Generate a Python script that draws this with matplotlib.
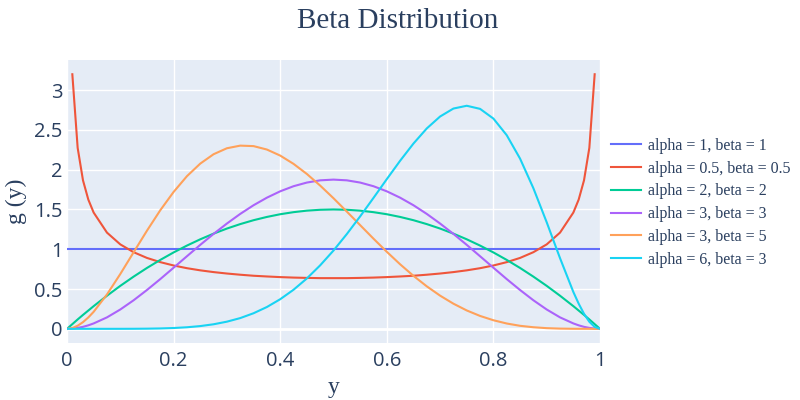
"""Beta distribution densities, plotly-style look."""

import matplotlib
matplotlib.use("Agg")
import matplotlib.pyplot as plt

nan = float("nan")

# sample points on y
y_grid = [0, 0.01, 0.02, 0.03, 0.04, 0.05, 0.075, 0.1, 0.125, 0.15, 0.175, 0.2,
          0.225, 0.25, 0.275, 0.3, 0.325, 0.35, 0.375, 0.4, 0.425, 0.45, 0.475,
          0.5, 0.525, 0.55, 0.575, 0.6, 0.625, 0.65, 0.675, 0.7, 0.725, 0.75,
          0.775, 0.8, 0.825, 0.85, 0.875, 0.9, 0.925, 0.95, 0.96, 0.97, 0.98,
          0.99, 1]

g_a1_b1 = [1] * len(y_grid)
g_a05_b05 = [nan, 3.199, 2.274, 1.866, 1.624, 1.461, 1.209, 1.061, 0.963, 0.891,
             0.838, 0.796, 0.762, 0.735, 0.713, 0.695, 0.680, 0.667, 0.658,
             0.650, 0.644, 0.640, 0.637, 0.637, 0.637, 0.640, 0.644, 0.650,
             0.658, 0.667, 0.680, 0.695, 0.713, 0.735, 0.762, 0.796, 0.838,
             0.891, 0.963, 1.061, 1.209, 1.461, 1.624, 1.866, 2.274, 3.199, nan]
g_a2_b2 = [0, 0.059, 0.118, 0.175, 0.230, 0.285, 0.416, 0.54, 0.656, 0.765,
           0.866, 0.96, 1.046, 1.125, 1.196, 1.26, 1.316, 1.365, 1.406, 1.44,
           1.466, 1.485, 1.496, 1.5, 1.496, 1.485, 1.466, 1.44, 1.406, 1.365,
           1.316, 1.26, 1.196, 1.125, 1.046, 0.96, 0.866, 0.765, 0.656, 0.54,
           0.416, 0.285, 0.230, 0.175, 0.118, 0.059, 0]
g_a3_b3 = [0, 0.003, 0.012, 0.025, 0.044, 0.068, 0.144, 0.243, 0.359, 0.488,
           0.625, 0.768, 0.912, 1.055, 1.193, 1.323, 1.444, 1.553, 1.648, 1.728,
           1.792, 1.838, 1.866, 1.875, 1.866, 1.838, 1.792, 1.728, 1.648, 1.553,
           1.444, 1.323, 1.193, 1.055, 0.912, 0.768, 0.625, 0.488, 0.359, 0.243,
           0.144, 0.068, 0.044, 0.025, 0.012, 0.003, 0]
g_a3_b5 = [0, 0.010, 0.039, 0.084, 0.143, 0.214, 0.432, 0.689, 0.962, 1.233,
           1.490, 1.720, 1.918, 2.076, 2.194, 2.269, 2.302, 2.296, 2.253, 2.177,
           2.073, 1.946, 1.800, 1.641, 1.473, 1.303, 1.133, 0.968, 0.811, 0.666,
           0.534, 0.417, 0.316, 0.231, 0.162, 0.108, 0.067, 0.038, 0.020,
           0.0085, 0.0028, 0.0006, 0.0003, 0.0001, 0, 0, 0]
g_a6_b3 = [0, 0, 0, 0, 0, 0, 0, 0.0002, 0.0007, 0.0021, 0.0049, 0.0103, 0.0196,
           0.0346, 0.0573, 0.090, 0.135, 0.196, 0.274, 0.372, 0.491, 0.633,
           0.798, 0.984, 1.191, 1.413, 1.645, 1.881, 2.112, 2.328, 2.518, 2.668,
           2.768, 2.803, 2.764, 2.642, 2.433, 2.139, 1.767, 1.339, 0.888, 0.463,
           0.316, 0.189, 0.089, 0.024, 0]

series_labels = ["alpha = 1, beta = 1", "alpha = 0.5, beta = 0.5",
                 "alpha = 2, beta = 2", "alpha = 3, beta = 3",
                 "alpha = 3, beta = 5", "alpha = 6, beta = 3"]
series_values = [g_a1_b1, g_a05_b05, g_a2_b2, g_a3_b3, g_a3_b5, g_a6_b3]
series_colors = ["#636efa", "#EF553B", "#00cc96", "#ab63fa", "#FFA15A", "#19d3f3"]

x_ticks = [0, 0.2, 0.4, 0.6, 0.8, 1]
x_tick_labels = ["0", "0.2", "0.4", "0.6", "0.8", "1"]
y_ticks = [0, 0.5, 1, 1.5, 2, 2.5, 3]
y_tick_labels = ["0", "0.5", "1", "1.5", "2", "2.5", "3"]

text_color = "#2a3f5f"
serif = ["Liberation Serif", "DejaVu Serif"]

figure = plt.figure(figsize=(8, 4), dpi=100)
axis = figure.add_axes([67 / 800, 57 / 400, 533 / 800, 283 / 400])
axis.set_facecolor("#E5ECF6")

for values, label, color in zip(series_values, series_labels, series_colors):
    axis.plot(y_grid, values, color=color, lw=1.5, label=label, zorder=3)

axis.set_xlim(0, 1)
axis.set_ylim(-0.178, 3.378)
axis.set_xticks(x_ticks)
axis.set_xticklabels(x_tick_labels)
axis.set_yticks(y_ticks)
axis.set_yticklabels(y_tick_labels)
axis.grid(True, color="white", lw=1, zorder=1)
axis.axhline(0, color="white", lw=2, zorder=2)
for spine in axis.spines.values():
    spine.set_visible(False)
axis.tick_params(length=0, labelsize=14.5, labelcolor=text_color)
axis.tick_params(axis="x", pad=6)
axis.tick_params(axis="y", pad=3)
for tick_label in axis.get_xticklabels() + axis.get_yticklabels():
    tick_label.set_family("Open Sans")

axis.set_xlabel("y", family=serif, fontsize=17, color=text_color, labelpad=4)
axis.set_ylabel("g (y)", family=serif, fontsize=17, color=text_color, labelpad=5)

figure.text(0.4975, 0.948, "Beta Distribution", family=serif, fontsize=21,
            color=text_color, ha="center", va="center")

legend = axis.legend(loc="upper left", bbox_to_anchor=(611 / 800, 1 - 138 / 400),
                     bbox_transform=figure.transFigure, frameon=False,
                     prop={"family": serif, "size": 11.5}, handlelength=1.9,
                     handletextpad=0.4, labelspacing=0.42, borderpad=0,
                     borderaxespad=0)
for text in legend.get_texts():
    text.set_color(text_color)

figure.savefig("out.png")
plt.close(figure)
